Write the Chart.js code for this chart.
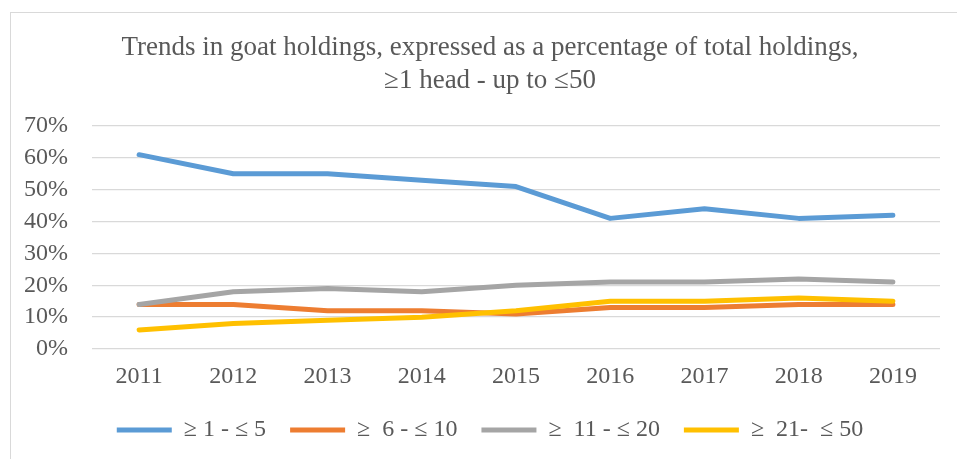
<!DOCTYPE html>
<html>
<head>
<meta charset="utf-8">
<script src="https://cdn.jsdelivr.net/npm/chart.js@4/dist/chart.umd.min.js"></script>
<style>
  html, body { margin: 0; padding: 0; background: #fff; overflow: hidden; }
  .wrap { position: relative; width: 957px; height: 459px; }
  .frame { position: absolute; left: 10px; top: 12px; width: 1000px; height: 500px;
           border-left: 1px solid #d9d9d9; border-top: 1px solid #d9d9d9; pointer-events: none; }
  canvas { position: absolute; left: 0; top: 0; }
</style>
</head>
<body>
<div class="wrap">
  <canvas id="myChart" width="957" height="459"></canvas>
  <div class="frame"></div>
</div>
<script>
const years = ['2011', '2012', '2013', '2014', '2015', '2016', '2017', '2018', '2019'];

const seriesNames = ['≥ 1 - ≤ 5', '≥  6 - ≤ 10', '≥  11 - ≤ 20', '≥  21-  ≤ 50'];
const heads1to5 = [61, 55, 55, 53, 51, 41, 44, 41, 42];
const heads6to10 = [14, 14, 12, 12, 11, 13, 13, 14, 14];
const heads11to20 = [14, 18, 19, 18, 20, 21, 21, 22, 21];
const heads21to50 = [6, 8, 9, 10, 12, 15, 15, 16, 15];

const yTicks = [0, 10, 20, 30, 40, 50, 60, 70];

const titleLines = [
  'Trends in goat holdings, expressed as a percentage of total holdings,',
  '≥1 head - up to ≤50'
];

const colors = ['#5B9BD5', '#ED7D31', '#A5A5A5', '#FFC000'];
const textGray = '#595959';
const fontFamily = '"Liberation Serif", "Times New Roman", serif';

function line(i, data) {
  return {
    label: seriesNames[i],
    data: data,
    borderColor: colors[i],
    backgroundColor: colors[i],
    borderWidth: 5,
    borderCapStyle: 'round',
    borderJoinStyle: 'round',
    pointRadius: 0,
    pointHoverRadius: 0,
    tension: 0,
    fill: false,
    // later series are painted over earlier ones, like the original
    order: 4 - i
  };
}

// the y labels hang left of the (narrowed) axis box, so widen its clip area
const unclipYLabels = {
  id: 'unclipYLabels',
  afterLayout(chart) {
    chart.scales.y.left = 0;
  }
};

const ctx = document.getElementById('myChart');

const config = {
  type: 'line',
  data: {
    labels: years,
    datasets: [
      line(0, heads1to5),
      line(1, heads6to10),
      line(2, heads11to20),
      line(3, heads21to50)
    ]
  },
  plugins: [unclipYLabels],
  options: {
    responsive: false,
    animation: false,
    layout: { padding: { left: 40, right: 17, top: 12, bottom: 7 } },
    plugins: {
      title: {
        display: true,
        text: titleLines,
        color: textGray,
        font: { family: fontFamily, size: 27, weight: 'normal', lineHeight: 1.222 },
        padding: { top: 19.5, bottom: 28.5 }
      },
      legend: {
        position: 'bottom',
        labels: {
          sort: (a, b) => a.datasetIndex - b.datasetIndex,
          usePointStyle: true,
          pointStyle: 'line',
          pointStyleWidth: 55,
          boxHeight: 5,
          padding: 24,
          color: textGray,
          font: { family: fontFamily, size: 24 }
        }
      },
      tooltip: { enabled: false }
    },
    scales: {
      x: {
        offset: true,
        afterFit: (scale) => { scale.height = 45; },
        grid: { display: false, drawTicks: false },
        border: { display: false },
        ticks: {
          color: textGray,
          padding: 13,
          font: { family: fontFamily, size: 24 }
        }
      },
      y: {
        min: 0,
        max: 70,
        afterFit: (scale) => { scale.width = 52; },
        grid: { color: '#D9D9D9', lineWidth: 1.3, drawTicks: false },
        border: { display: false },
        afterBuildTicks: (scale) => { scale.ticks = yTicks.map(v => ({ value: v })); },
        ticks: {
          autoSkip: false,
          color: textGray,
          padding: 24,
          font: { family: fontFamily, size: 24 },
          callback: (v) => v + '%'
        }
      }
    }
  }
};

if (ctx) {
  const myChart = new Chart(ctx, config);
}
</script>
</body>
</html>
